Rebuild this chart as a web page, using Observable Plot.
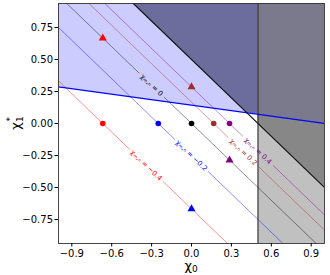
<!DOCTYPE html>
<html><head><meta charset="utf-8">
<script src="https://cdn.jsdelivr.net/npm/d3@7"></script>
<script src="https://cdn.jsdelivr.net/npm/@observablehq/plot@0.6"></script>
<style>body{margin:0;background:#fff;font-family:"DejaVu Sans",sans-serif}</style>
</head><body><div id="chart"></div>
<script>
// ---- data ----
const xDomain = [-1, 1];
const yDomain = [-0.9375, 0.9375];
const xTicks = [-0.9, -0.6, -0.3, 0, 0.3, 0.6, 0.9];
const yTicks = [-0.75, -0.5, -0.25, 0, 0.25, 0.5, 0.75];
// iso-lines x + y = c  (labels chi_{m,n})
const chiLabels = ["−0.4", "−0.2", "0", "0.2", "0.4"];
const isoIntercepts = [-0.667, -0.25, 0, 0.167, 0.286];
const isoColors = ["red", "blue", "black", "brown", "purple"];
const isoLabelX = [-0.34, 0.0, -0.30, 0.39, 0.50];
// dots (on y = 0)
const dotX = [-0.667, -0.25, 0, 0.167, 0.286];
const dotColors = ["red", "blue", "black", "brown", "purple"];
// triangles
const triX = [-0.667, 0, 0, 0.286];
const triY = [0.667, -0.667, 0.286, -0.286];
const triColors = ["red", "blue", "brown", "purple"];
// boundaries
const blueLineX = [-1, 1];
const blueLineY = [0.286, 0];
const diagC = 0.5;       // x + y = 0.5
const vertX = 0.5;       // x = 0.5

// ---- helpers ----
const [yb, yt] = yDomain;
const sB = (blueLineY[1] - blueLineY[0]) / (blueLineX[1] - blueLineX[0]);
const iB = blueLineY[0] - sB * blueLineX[0];
const blueAt = x => iB + sB * x;
const xInt = (diagC - iB) / (1 + sB);

const lavender = blueLineX.map((x, i) => ({x, y1: blueLineY[i], y2: yt}));
const darkLeft = [
  {x: diagC - yt, y1: yt, y2: yt},
  {x: xInt, y1: diagC - xInt, y2: yt},
  {x: vertX, y1: blueAt(vertX), y2: yt}
];
const midGray = [{x: vertX, y1: diagC - vertX, y2: yt}, {x: 1, y1: diagC - 1, y2: yt}];
const rightTop = [{x: vertX, y1: blueAt(vertX), y2: yt}, {x: 1, y1: blueAt(1), y2: yt}];

// iso-line segments with gaps for labels
const fs = 7;
const segs = [];
const labels = [];
isoIntercepts.forEach((c, i) => {
  const txt = "χₘ,ₙ = " + chiLabels[i];
  const Lpx = txt.length * fs * 0.55 + 4;
  const g = (Lpx / 2) / 184.6;
  const lx = isoLabelX[i];
  [[-1.2, lx - g], [lx + g, 1.2]].forEach(([a, b], k) => {
    segs.push({x: a, y: c - a, k: i * 2 + k, color: isoColors[i]});
    segs.push({x: b, y: c - b, k: i * 2 + k, color: isoColors[i]});
  });
  labels.push({x: lx, y: c - lx, text: txt, color: isoColors[i]});
});

const dots = dotX.map((x, i) => ({x, y: 0, color: dotColors[i]}));
const tris = triX.map((x, i) => ({x, y: triY[i], color: triColors[i]}));
const diagPts = [{x: diagC - yt, y: yt}, {x: 1, y: diagC - 1}];
const fmt = d => (d < 0 ? "−" : "") + Math.abs(d).toFixed(1);
const fmtY = d => (d < 0 ? "−" : "") + Math.abs(d).toFixed(2);

const chart = Plot.plot({
  width: 330, height: 275,
  marginLeft: 58, marginRight: 6, marginTop: 3, marginBottom: 32,
  style: {fontFamily: "DejaVu Sans", fontSize: "10px", color: "black", background: "white"},
  x: {domain: xDomain},
  y: {domain: yDomain},
  marks: [
    Plot.areaY(lavender, {x: "x", y1: "y1", y2: "y2", fill: "#ccccff"}),
    Plot.areaY(darkLeft, {x: "x", y1: "y1", y2: "y2", fill: "#6c6c9d"}),
    Plot.rect([0], {x1: vertX, x2: 1, y1: yb, y2: yt, fill: "#c0c0c0"}),
    Plot.areaY(midGray, {x: "x", y1: "y1", y2: "y2", fill: "#878787"}),
    Plot.areaY(rightTop, {x: "x", y1: "y1", y2: "y2", fill: "#7a7a8c"}),
    Plot.line(segs, {x: "x", y: "y", z: "k", stroke: "color", strokeWidth: 0.8, strokeOpacity: 0.55, clip: true}),
    Plot.text(labels, {x: "x", y: "y", text: "text", fill: "color", fontSize: fs, rotate: 44}),
    Plot.line(blueLineX.map((x, i) => ({x, y: blueLineY[i]})), {x: "x", y: "y", stroke: "blue", strokeWidth: 1.3, clip: true}),
    Plot.line(diagPts, {x: "x", y: "y", stroke: "#111", strokeWidth: 1.1, clip: true}),
    Plot.ruleX([vertX], {stroke: "#222", strokeWidth: 1}),
    Plot.dot(dots, {x: "x", y: "y", fill: "color", r: 2.8}),
    Plot.dot(tris, {x: "x", y: "y", fill: "color", r: 3, symbol: "triangle"}),
    Plot.frame({stroke: "#333", strokeWidth: 0.9}),
    Plot.axisX({ticks: xTicks, tickFormat: fmt, tickSize: 3.5, label: null, tickPadding: 3}),
    Plot.axisY({ticks: yTicks, tickFormat: fmtY, tickSize: 3.5, label: null, tickPadding: 2})
  ]
});
document.getElementById("chart").append(chart);

const svg = d3.select(chart);
// x axis label chi_0
const xl = svg.append("text")
  .attr("x", 191).attr("y", 270)
  .attr("text-anchor", "middle")
  .attr("font-size", 13)
  .attr("font-family", "DejaVu Sans")
  .attr("fill", "black");
xl.append("tspan").text("χ");
xl.append("tspan").attr("font-size", 9).attr("dy", 2).text("0");
// y axis label chi_1^*
const yl = svg.append("text")
  .attr("transform", "translate(20,123) rotate(-90)")
  .attr("text-anchor", "middle")
  .attr("font-size", 13)
  .attr("font-family", "DejaVu Sans")
  .attr("fill", "black");
yl.append("tspan").text("χ");
yl.append("tspan").attr("font-size", 9).attr("dy", 3).text("1");
yl.append("tspan").attr("font-size", 9).attr("dx", -5).attr("dy", -10).text("*");
</script></body></html>
